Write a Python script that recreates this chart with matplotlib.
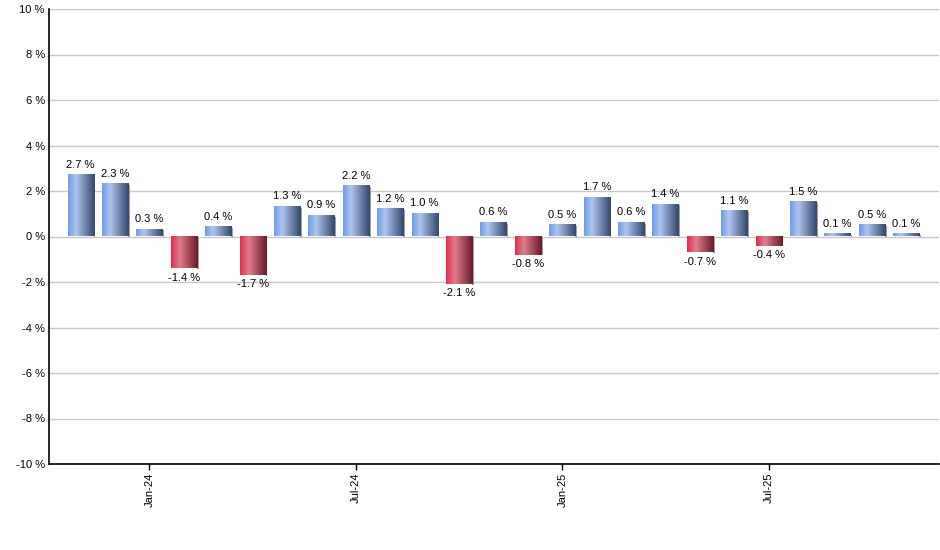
"""Monthly change bar chart with shaded bars."""

import matplotlib

matplotlib.use("Agg")
import matplotlib.pyplot as plt
import numpy as np
from matplotlib.colors import LinearSegmentedColormap

months = [
    "Nov-23", "Dec-23", "Jan-24", "Feb-24", "Mar-24", "Apr-24", "May-24",
    "Jun-24", "Jul-24", "Aug-24", "Sep-24", "Oct-24", "Nov-24", "Dec-24",
    "Jan-25", "Feb-25", "Mar-25", "Apr-25", "May-25", "Jun-25", "Jul-25",
    "Aug-25", "Sep-25", "Oct-25", "Nov-25",
]
changes = [
    2.7, 2.3, 0.3, -1.4, 0.4, -1.7, 1.3, 0.9, 2.2, 1.2, 1.0, -2.1, 0.6,
    -0.8, 0.5, 1.7, 0.6, 1.4, -0.7, 1.1, -0.4, 1.5, 0.1, 0.5, 0.1,
]
tick_months = ["Jan-24", "Jul-24", "Jan-25", "Jul-25"]
y_ticks = [-10, -8, -6, -4, -2, 0, 2, 4, 6, 8, 10]

plt.rcParams["font.family"] = ["Liberation Sans", "DejaVu Sans"]

blue_cmap = LinearSegmentedColormap.from_list(
    "blue_shade", [(0.0, "#6f9be8"), (0.3, "#adc6f2"), (1.0, "#33466b")]
)
red_cmap = LinearSegmentedColormap.from_list(
    "red_shade", [(0.0, "#df2d4e"), (0.33, "#e07d8d"), (1.0, "#6a1828")]
)

fig = plt.figure(figsize=(9.4, 5.5), dpi=100)
ax = fig.add_axes([49 / 940, 1 - 464 / 550, 890 / 940, 455 / 550])

x = np.arange(len(months))
bars = ax.bar(x, changes, width=0.76, color="none", zorder=3)

gradient = np.linspace(0, 1, 256).reshape(1, -1)
px = 0.029  # roughly one pixel in data units along x
for bar, val in zip(bars, changes):
    x0 = bar.get_x()
    x1 = x0 + bar.get_width()
    y0, y1 = sorted([0, val])
    # thin shadow on the right side
    ax.fill_between([x1, x1 + 1.6 * px], y0 - 0.03, y1 - 0.03,
                    color="#a0a0a0", zorder=2, linewidth=0)
    cmap = blue_cmap if val >= 0 else red_cmap
    ax.imshow(gradient, extent=[x0, x1, y0, y1], aspect="auto",
              cmap=cmap, zorder=3, interpolation="bilinear")
    if val >= 0:
        ax.annotate(f"{val:.1f} %", (bar.get_x() + bar.get_width() / 2, val),
                    xytext=(0, 4), textcoords="offset points",
                    ha="center", va="bottom", fontsize=8)
    else:
        ax.annotate(f"{val:.1f} %", (bar.get_x() + bar.get_width() / 2, val),
                    xytext=(0, -3), textcoords="offset points",
                    ha="center", va="top", fontsize=8)

ax.set_xlim(-0.92, len(months) - 1 + 0.95)
ax.set_ylim(-10, 10)
ax.set_yticks(y_ticks)
ax.set_yticklabels([f"{t} %" for t in y_ticks], fontsize=8)
ax.tick_params(axis="y", length=0, pad=3)

ax.set_xticks([months.index(m) for m in tick_months])
ax.set_xticklabels(tick_months, rotation=90, fontsize=8)
ax.tick_params(axis="x", length=4, width=1, color="black", pad=2)

ax.grid(axis="y", color="#c8c8c8", linewidth=1, zorder=0)
ax.set_axisbelow(True)
for side in ("top", "right"):
    ax.spines[side].set_visible(False)
for side in ("left", "bottom"):
    ax.spines[side].set_linewidth(1.2)
    ax.spines[side].set_color("black")

fig.savefig("out.png", dpi=100)
plt.close(fig)
